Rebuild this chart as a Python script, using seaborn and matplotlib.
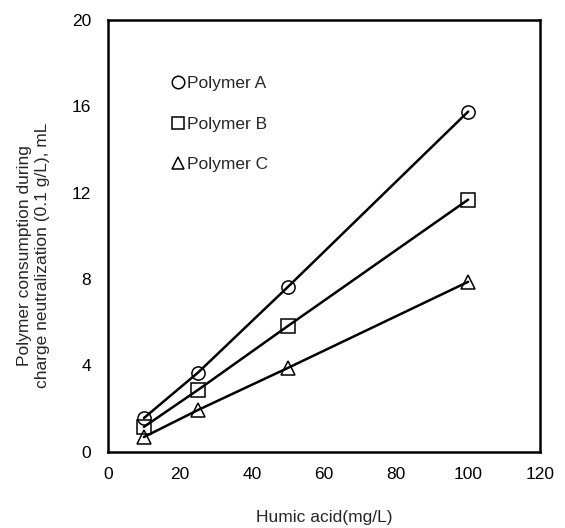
import matplotlib
matplotlib.use("Agg")
import matplotlib.pyplot as plt
from matplotlib.lines import Line2D
import seaborn as sns
import pandas as pd

humic_acid = [10, 25, 50, 100]
polymer_a = [1.57, 3.67, 7.64, 15.74]
polymer_b = [1.16, 2.87, 5.83, 11.67]
polymer_c = [0.69, 1.94, 3.89, 7.87]
series_names = ["Polymer A", "Polymer B", "Polymer C"]
x_ticks = [0, 20, 40, 60, 80, 100, 120]
y_ticks = [0, 4, 8, 12, 16, 20]

rows = []
for name, vals in zip(series_names, [polymer_a, polymer_b, polymer_c]):
    for x, y in zip(humic_acid, vals):
        rows.append({"x": x, "y": y, "series": name})
df = pd.DataFrame(rows)

sns.set_style("white")
plt.rcParams["font.family"] = ["Liberation Sans", "DejaVu Sans"]

fig = plt.figure(figsize=(5.65, 5.28), dpi=100)
ax = fig.add_axes([0.191, 0.144, 0.765, 0.819])

markers = {"Polymer A": "o", "Polymer B": "s", "Polymer C": "^"}
sns.lineplot(data=df, x="x", y="y", style="series", markers=markers, dashes=False,
             color="black", markersize=9.5, markerfacecolor="none",
             markeredgecolor="black", markeredgewidth=1.1, linewidth=1.8,
             legend=False, ax=ax)

ax.set_xlim(0, 120)
ax.set_ylim(0, 20)
ax.set_xticks(x_ticks)
ax.set_yticks(y_ticks)
ax.tick_params(direction="in", length=4, width=1, labelsize=12.5, colors="black")
ax.tick_params(axis="x", pad=11)
ax.tick_params(axis="y", pad=12)
for s in ax.spines.values():
    s.set_visible(True)
    s.set_color("black")
    s.set_linewidth(1.8)

ax.set_xlabel("Humic acid(mg/L)", fontsize=12.5, labelpad=20)
ax.set_ylabel("Polymer consumption during\ncharge neutralization (0.1 g/L), mL",
              fontsize=12.5, linespacing=1.2)
ax.yaxis.set_label_coords(-0.135, 0.455)

handles = [Line2D([], [], linestyle="none", marker=markers[n], markersize=9,
                  markerfacecolor="none", markeredgecolor="black", markeredgewidth=1.1)
           for n in series_names]
ax.legend(handles, series_names, loc="upper left", bbox_to_anchor=(0.135, 0.885),
          frameon=False, fontsize=12.5, labelspacing=1.45, handlelength=0.6,
          handletextpad=0.2, borderaxespad=0)

fig.savefig("out.png", dpi=100)
